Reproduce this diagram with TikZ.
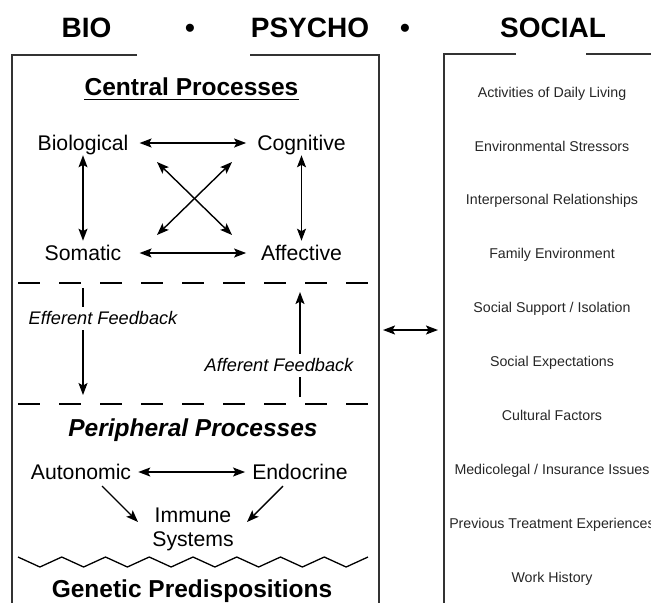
\documentclass[tikz,border=0pt]{standalone}
\usepackage{fontspec}
\setmainfont{Liberation Sans}
\usetikzlibrary{arrows.meta}
\begin{document}
\begin{tikzpicture}[x=1pt,y=-1pt,
  every node/.style={inner sep=0pt, text depth=0pt},
  ttl/.style={font=\fontsize{28}{30}\selectfont\bfseries, text height=20pt},
  hdr/.style={font=\fontsize{24.5}{26}\selectfont\bfseries, text height=17.5pt},
  hdri/.style={font=\fontsize{24.5}{26}\selectfont\bfseries\itshape, text height=17.5pt},
  proc/.style={font=\fontsize{21.2}{24}\selectfont, text height=15.2pt, inner xsep=11pt, inner ysep=4.5pt},
  fb/.style={font=\fontsize{18.2}{20}\selectfont\itshape, text height=13pt, fill=white, inner xsep=1pt, inner ysep=5pt},
  soc/.style={font=\fontsize{14.2}{16}\selectfont, text height=10.2pt, text=black!85},
  boxline/.style={line width=1.3pt, draw=black!80},
  tip/.tip={Stealth[length=12pt,width=9pt,inset=2.5pt]},
  arr/.style={line width=1.4pt, -tip},
  dbl/.style={line width=1.4pt, tip-tip},
  dsh/.style={line width=1.5pt, dash pattern=on 22pt off 19pt},
]
\useasboundingbox (0,0) rectangle (651,603);

% titles
\node[ttl] (tbio) at (86.5,27) {BIO};
\node[ttl] (dot1) at (190,27) {•};
\node[ttl] (tpsy) at (310,27) {PSYCHO};
\node[ttl] (dot2) at (405,27) {•};
\node[ttl] (tsoc) at (553,27) {SOCIAL};

% box lines
\draw[boxline] (137,55) -- (12,55) -- (12,603);
\draw[boxline] (250,55) -- (379,55) -- (379,603);
\draw[boxline] (516,54) -- (444,54) -- (444,603);
\draw[boxline] (586,54) -- (651,54);

% central processes
\node[hdr] (cp) at (191.5,86.5) {Central Processes};
\draw[line width=1.3pt] ([yshift=-3.8pt]cp.south west) -- ([yshift=-3.8pt]cp.south east);

\node[proc] (bio) at (83,143) {Biological};
\node[proc] (cog) at (301.5,143) {Cognitive};
\node[proc] (som) at (83,253) {Somatic};
\node[proc] (aff) at (301.5,253) {Affective};

\draw[dbl] (bio) -- (cog);
\draw[dbl] (som -| bio.east) -- (som -| cog.west);
\draw[dbl] (bio) -- (som);
\draw[dbl] (cog) -- (aff);

\coordinate (c1) at (157,162);
\coordinate (c2) at (232,162);
\coordinate (c3) at (157,235);
\coordinate (c4) at (232,235);
\draw[dbl] (c1) -- (c4);
\draw[dbl] (c3) -- (c2);

% dashed separators
\coordinate (d1) at (18,283);
\coordinate (d2) at (368,283);
\coordinate (d3) at (18,404);
\coordinate (d4) at (368,404);
\draw[dsh] (d1) -- (d2);
\draw[dsh] (d3) -- (d4);

% feedback
\coordinate (e1) at (83,288);
\coordinate (e2) at (83,395);
\draw[arr] (e1) -- (e2);
\node[fb] (eff) at (103,318) {Efferent Feedback};
\coordinate (a1) at (300,397);
\coordinate (a2) at (300,292);
\draw[arr] (a1) -- (a2);
\node[fb] (aff2) at (279,365) {Afferent Feedback};

% arrow between boxes
\coordinate (b1) at (383,330);
\coordinate (b2) at (438,330);
\draw[dbl] (b1) -- (b2);

% peripheral processes
\node[hdri] (pp) at (193,427.5) {Peripheral Processes};
\node[proc, inner xsep=7pt] (aut) at (81,472) {Autonomic};
\node[proc, inner xsep=7pt] (endo) at (300,472) {Endocrine};
\draw[dbl] (aut) -- (endo);
\node[proc] (imm1) at (193,515) {Immune};
\node[proc] (imm2) at (193,539) {Systems};
\coordinate (r1) at (102,486);
\coordinate (r2) at (138,522);
\coordinate (r3) at (283,486);
\coordinate (r4) at (247,522);
\draw[arr] (r1) -- (r2);
\draw[arr] (r3) -- (r4);

% zigzag
\draw[line width=1.3pt, line join=miter] (18,557) foreach \k in {1,...,8} { -- ({18+43.75*\k-21.875},567) -- ({18+43.75*\k},557) };

\node[hdr] (gen) at (192,589) {Genetic Predispositions};

% social column
\foreach \t [count=\i from 0] in {Activities of Daily Living, Environmental Stressors, Interpersonal Relationships, Family Environment, Social Support / Isolation, Social Expectations, Cultural Factors, Medicolegal / Insurance Issues, Previous Treatment Experiences, Work History}
  \node[soc] (s\i) at (552,{92+53.9*\i}) {\t};
\end{tikzpicture}
\end{document}
